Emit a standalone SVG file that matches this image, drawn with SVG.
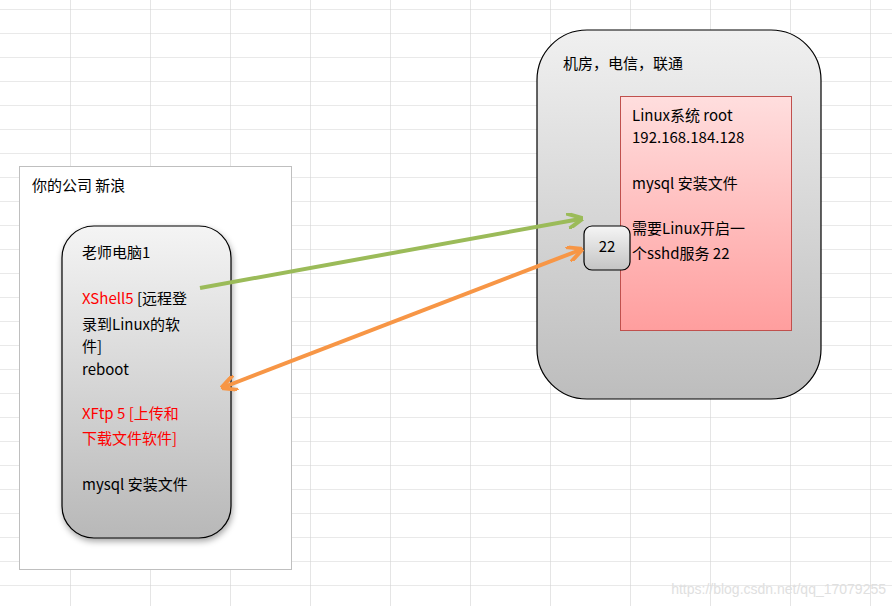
<svg xmlns="http://www.w3.org/2000/svg" width="892" height="606" viewBox="0 0 892 606">
<defs>
<style>
text{font-family:"Noto Sans CJK SC","Noto Sans",sans-serif;font-size:15px;fill:#000}
.r{fill:#ff0000}
.grid line{stroke:#d4d4d4;stroke-width:1}
</style>
<pattern id="g" x="70" y="9" width="80" height="24" patternUnits="userSpaceOnUse">
<path d="M0 0H80M0 0V24" fill="none" stroke="#d4d4d4" stroke-width="1.2"/>
</pattern>
<linearGradient id="gw" x1="0" y1="0" x2="0" y2="1"><stop offset="0" stop-color="#f4f4f4"/><stop offset="1" stop-color="#b8b8b8"/></linearGradient>
<linearGradient id="gr" x1="0" y1="0" x2="0" y2="1"><stop offset="0" stop-color="#f0f0f0"/><stop offset="1" stop-color="#bdbdbd"/></linearGradient>
<linearGradient id="gp" x1="0" y1="0" x2="0" y2="1"><stop offset="0" stop-color="#ffdede"/><stop offset="1" stop-color="#ff9e9e"/></linearGradient>
<linearGradient id="gb" x1="0" y1="0" x2="0" y2="1"><stop offset="0" stop-color="#f5f5f5"/><stop offset="1" stop-color="#c4c4c4"/></linearGradient>
<filter id="sh" x="-20%" y="-20%" width="140%" height="140%"><feDropShadow dx="1" dy="3" stdDeviation="3" flood-opacity="0.35"/></filter>
<marker id="ag" viewBox="0 0 10 10" refX="8" refY="5" markerWidth="4" markerHeight="4" orient="auto-start-reverse"><path d="M0 0L10 5L0 10" fill="none" stroke="#9bbb59" stroke-width="2.5"/></marker>
<marker id="ao" viewBox="0 0 10 10" refX="8" refY="5" markerWidth="4" markerHeight="4" orient="auto-start-reverse"><path d="M0 0L10 5L0 10" fill="none" stroke="#f79646" stroke-width="2.5"/></marker>
</defs>
<rect width="892" height="606" fill="#fff"/>
<rect width="892" height="606" fill="url(#g)"/>
<g id="company">
<rect x="19.5" y="166.5" width="272" height="403" fill="#fff" stroke="#bfbfbf"/>
<text x="32" y="191">你的公司 新浪</text>
</g>
<g id="teacher-pc">
<rect x="62" y="226" width="169" height="312" rx="32" fill="url(#gw)" stroke="#000" stroke-width="1.2" filter="url(#sh)"/>
<text x="82" y="258">老师电脑1</text>
<text x="82" y="304"><tspan class="r">XShell5</tspan> [远程登</text>
<text x="82" y="330">录到Linux的软</text>
<text x="82" y="352">件]</text>
<text x="82" y="375">reboot</text>
<text x="82" y="419" class="r">XFtp 5 [上传和</text>
<text x="82" y="444" class="r">下载文件软件]</text>
<text x="82" y="490">mysql 安装文件</text>
</g>
<g id="datacenter">
<rect x="537" y="30" width="284" height="369" rx="50" fill="url(#gr)" stroke="#000" stroke-width="1.2"/>
<text x="563" y="69">机房，电信，联通</text>
</g>
<g id="linux">
<rect x="620.5" y="96.5" width="171" height="234" fill="url(#gp)" stroke="#c0504d"/>
<text x="632" y="121">Linux系统 root</text>
<text x="632" y="143">192.168.184.128</text>
<text x="632" y="189">mysql 安装文件</text>
<text x="632" y="234">需要Linux开启一</text>
<text x="632" y="259">个sshd服务 22</text>
</g>
<g id="port22">
<rect x="584" y="226" width="46" height="44" rx="8" fill="url(#gb)" stroke="#000" stroke-width="1.2"/>
<text x="607" y="252" text-anchor="middle">22</text>
</g>
<g id="connectors" fill="none" stroke-width="4">
<line x1="200" y1="288" x2="580" y2="219" stroke="#9bbb59" marker-end="url(#ag)"/>
<line x1="224" y1="387" x2="580" y2="250" stroke="#f79646" marker-start="url(#ao)" marker-end="url(#ao)"/>
</g>
<text x="886" y="594" text-anchor="end" style="font-family:'Liberation Sans',sans-serif;font-size:14px;fill:#e0e0e0">https://blog.csdn.net/qq_17079255</text>
</svg>
